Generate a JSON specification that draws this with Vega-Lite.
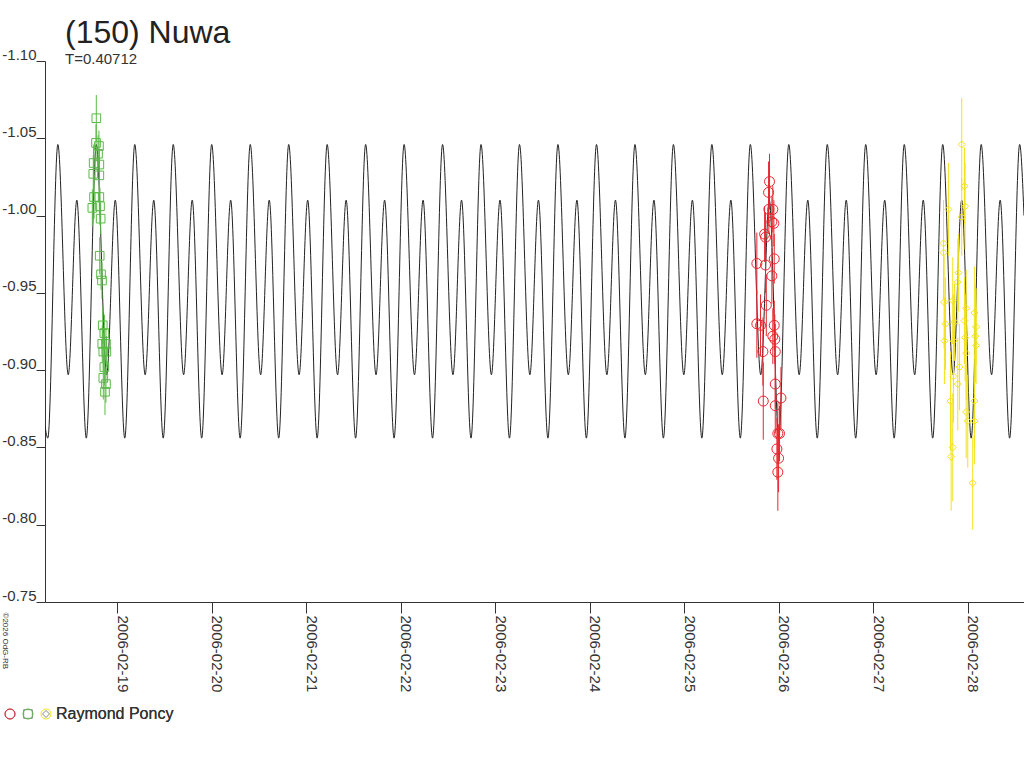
{
  "$schema": "https://vega.github.io/schema/vega-lite/v6.json",
  "width": 979,
  "height": 541,
  "autosize": "none",
  "padding": {"left": 45, "top": 61, "right": 0, "bottom": 166},
  "background": "white",
  "title": {
    "text": "(150) Nuwa",
    "subtitle": "T=0.40712",
    "anchor": "start",
    "frame": "group",
    "dx": 20,
    "offset": -21,
    "fontSize": 32,
    "fontWeight": "normal",
    "font": "Liberation Sans",
    "color": "#222",
    "subtitleFontSize": 15,
    "subtitleFont": "Liberation Sans",
    "subtitleColor": "#333",
    "subtitlePadding": 2
  },
  "datasets": {
    "curve": [
      {"day": 18.235, "mag": -0.864}, {"day": 18.265, "mag": -0.856},
      {"day": 18.371, "mag": -1.046}, {"day": 18.481, "mag": -0.897}, {"day": 18.572, "mag": -1.010}, {"day": 18.672, "mag": -0.856},
      {"day": 18.778, "mag": -1.046}, {"day": 18.888, "mag": -0.897}, {"day": 18.979, "mag": -1.010}, {"day": 19.079, "mag": -0.856},
      {"day": 19.185, "mag": -1.046}, {"day": 19.295, "mag": -0.897}, {"day": 19.386, "mag": -1.010}, {"day": 19.486, "mag": -0.856},
      {"day": 19.592, "mag": -1.046}, {"day": 19.702, "mag": -0.897}, {"day": 19.793, "mag": -1.010}, {"day": 19.893, "mag": -0.856},
      {"day": 19.999, "mag": -1.046}, {"day": 20.109, "mag": -0.897}, {"day": 20.200, "mag": -1.010}, {"day": 20.300, "mag": -0.856},
      {"day": 20.407, "mag": -1.046}, {"day": 20.517, "mag": -0.897}, {"day": 20.608, "mag": -1.010}, {"day": 20.708, "mag": -0.856},
      {"day": 20.814, "mag": -1.046}, {"day": 20.924, "mag": -0.897}, {"day": 21.015, "mag": -1.010}, {"day": 21.115, "mag": -0.856},
      {"day": 21.221, "mag": -1.046}, {"day": 21.331, "mag": -0.897}, {"day": 21.422, "mag": -1.010}, {"day": 21.522, "mag": -0.856},
      {"day": 21.628, "mag": -1.046}, {"day": 21.738, "mag": -0.897}, {"day": 21.829, "mag": -1.010}, {"day": 21.929, "mag": -0.856},
      {"day": 22.035, "mag": -1.046}, {"day": 22.145, "mag": -0.897}, {"day": 22.236, "mag": -1.010}, {"day": 22.336, "mag": -0.856},
      {"day": 22.442, "mag": -1.046}, {"day": 22.552, "mag": -0.897}, {"day": 22.643, "mag": -1.010}, {"day": 22.743, "mag": -0.856},
      {"day": 22.849, "mag": -1.046}, {"day": 22.959, "mag": -0.897}, {"day": 23.050, "mag": -1.010}, {"day": 23.150, "mag": -0.856},
      {"day": 23.256, "mag": -1.046}, {"day": 23.366, "mag": -0.897}, {"day": 23.457, "mag": -1.010}, {"day": 23.557, "mag": -0.856},
      {"day": 23.663, "mag": -1.046}, {"day": 23.773, "mag": -0.897}, {"day": 23.864, "mag": -1.010}, {"day": 23.964, "mag": -0.856},
      {"day": 24.071, "mag": -1.046}, {"day": 24.181, "mag": -0.897}, {"day": 24.272, "mag": -1.010}, {"day": 24.372, "mag": -0.856},
      {"day": 24.478, "mag": -1.046}, {"day": 24.588, "mag": -0.897}, {"day": 24.679, "mag": -1.010}, {"day": 24.779, "mag": -0.856},
      {"day": 24.885, "mag": -1.046}, {"day": 24.995, "mag": -0.897}, {"day": 25.086, "mag": -1.010}, {"day": 25.186, "mag": -0.856},
      {"day": 25.292, "mag": -1.046}, {"day": 25.402, "mag": -0.897}, {"day": 25.493, "mag": -1.010}, {"day": 25.593, "mag": -0.856},
      {"day": 25.699, "mag": -1.046}, {"day": 25.809, "mag": -0.897}, {"day": 25.900, "mag": -1.010}, {"day": 26.000, "mag": -0.856},
      {"day": 26.106, "mag": -1.046}, {"day": 26.216, "mag": -0.897}, {"day": 26.307, "mag": -1.010}, {"day": 26.407, "mag": -0.856},
      {"day": 26.513, "mag": -1.046}, {"day": 26.623, "mag": -0.897}, {"day": 26.714, "mag": -1.010}, {"day": 26.814, "mag": -0.856},
      {"day": 26.920, "mag": -1.046}, {"day": 27.030, "mag": -0.897}, {"day": 27.121, "mag": -1.010}, {"day": 27.221, "mag": -0.856},
      {"day": 27.328, "mag": -1.046}, {"day": 27.438, "mag": -0.897}, {"day": 27.529, "mag": -1.010}, {"day": 27.629, "mag": -0.856},
      {"day": 27.735, "mag": -1.046}, {"day": 27.845, "mag": -0.897}, {"day": 27.936, "mag": -1.010}, {"day": 28.036, "mag": -0.856},
      {"day": 28.142, "mag": -1.046}, {"day": 28.252, "mag": -0.897}, {"day": 28.343, "mag": -1.010}, {"day": 28.443, "mag": -0.856},
      {"day": 28.549, "mag": -1.046}, {"day": 28.595, "mag": -1.000}
    ],
    "obs": [
      {"session": "2006-02-18", "day": 18.778, "mag": -1.063, "err": 0.015},
      {"session": "2006-02-18", "day": 18.775, "mag": -1.047, "err": 0.012},
      {"session": "2006-02-18", "day": 18.806, "mag": -1.045, "err": 0.010},
      {"session": "2006-02-18", "day": 18.796, "mag": -1.040, "err": 0.012},
      {"session": "2006-02-18", "day": 18.750, "mag": -1.034, "err": 0.012},
      {"session": "2006-02-18", "day": 18.810, "mag": -1.033, "err": 0.010},
      {"session": "2006-02-18", "day": 18.746, "mag": -1.027, "err": 0.012},
      {"session": "2006-02-18", "day": 18.810, "mag": -1.026, "err": 0.012},
      {"session": "2006-02-18", "day": 18.754, "mag": -1.012, "err": 0.014},
      {"session": "2006-02-18", "day": 18.810, "mag": -1.012, "err": 0.010},
      {"session": "2006-02-18", "day": 18.736, "mag": -1.005, "err": 0.012},
      {"session": "2006-02-18", "day": 18.817, "mag": -1.006, "err": 0.012},
      {"session": "2006-02-18", "day": 18.824, "mag": -0.998, "err": 0.010},
      {"session": "2006-02-18", "day": 18.814, "mag": -0.974, "err": 0.012},
      {"session": "2006-02-18", "day": 18.828, "mag": -0.962, "err": 0.010},
      {"session": "2006-02-18", "day": 18.838, "mag": -0.958, "err": 0.012},
      {"session": "2006-02-18", "day": 18.846, "mag": -0.929, "err": 0.012},
      {"session": "2006-02-18", "day": 18.863, "mag": -0.924, "err": 0.012},
      {"session": "2006-02-18", "day": 18.841, "mag": -0.917, "err": 0.012},
      {"session": "2006-02-18", "day": 18.880, "mag": -0.917, "err": 0.010},
      {"session": "2006-02-18", "day": 18.852, "mag": -0.912, "err": 0.012},
      {"session": "2006-02-18", "day": 18.884, "mag": -0.912, "err": 0.010},
      {"session": "2006-02-18", "day": 18.863, "mag": -0.902, "err": 0.012},
      {"session": "2006-02-18", "day": 18.852, "mag": -0.895, "err": 0.014},
      {"session": "2006-02-18", "day": 18.880, "mag": -0.891, "err": 0.012},
      {"session": "2006-02-18", "day": 18.870, "mag": -0.886, "err": 0.015},
      {"session": "2006-02-25", "day": 25.902, "mag": -1.022, "err": 0.018},
      {"session": "2006-02-25", "day": 25.892, "mag": -1.015, "err": 0.020},
      {"session": "2006-02-25", "day": 25.895, "mag": -1.004, "err": 0.016},
      {"session": "2006-02-25", "day": 25.937, "mag": -1.004, "err": 0.015},
      {"session": "2006-02-25", "day": 25.927, "mag": -0.996, "err": 0.016},
      {"session": "2006-02-25", "day": 25.948, "mag": -0.995, "err": 0.015},
      {"session": "2006-02-25", "day": 25.850, "mag": -0.988, "err": 0.018},
      {"session": "2006-02-25", "day": 25.860, "mag": -0.986, "err": 0.016},
      {"session": "2006-02-25", "day": 25.768, "mag": -0.969, "err": 0.020},
      {"session": "2006-02-25", "day": 25.860, "mag": -0.968, "err": 0.018},
      {"session": "2006-02-25", "day": 25.952, "mag": -0.972, "err": 0.016},
      {"session": "2006-02-25", "day": 25.927, "mag": -0.961, "err": 0.018},
      {"session": "2006-02-25", "day": 25.868, "mag": -0.942, "err": 0.020},
      {"session": "2006-02-25", "day": 25.768, "mag": -0.930, "err": 0.022},
      {"session": "2006-02-25", "day": 25.807, "mag": -0.929, "err": 0.020},
      {"session": "2006-02-25", "day": 25.952, "mag": -0.929, "err": 0.016},
      {"session": "2006-02-25", "day": 25.937, "mag": -0.922, "err": 0.018},
      {"session": "2006-02-25", "day": 25.958, "mag": -0.920, "err": 0.016},
      {"session": "2006-02-25", "day": 25.832, "mag": -0.912, "err": 0.022},
      {"session": "2006-02-25", "day": 25.963, "mag": -0.912, "err": 0.018},
      {"session": "2006-02-25", "day": 25.963, "mag": -0.891, "err": 0.016},
      {"session": "2006-02-25", "day": 25.836, "mag": -0.880, "err": 0.025},
      {"session": "2006-02-25", "day": 26.023, "mag": -0.882, "err": 0.020},
      {"session": "2006-02-25", "day": 25.963, "mag": -0.877, "err": 0.018},
      {"session": "2006-02-25", "day": 25.990, "mag": -0.859, "err": 0.020},
      {"session": "2006-02-25", "day": 26.008, "mag": -0.859, "err": 0.018},
      {"session": "2006-02-25", "day": 25.980, "mag": -0.849, "err": 0.020},
      {"session": "2006-02-25", "day": 25.998, "mag": -0.843, "err": 0.022},
      {"session": "2006-02-25", "day": 25.990, "mag": -0.834, "err": 0.025},
      {"session": "2006-02-27", "day": 27.936, "mag": -1.046, "err": 0.030},
      {"session": "2006-02-27", "day": 27.965, "mag": -1.019, "err": 0.025},
      {"session": "2006-02-27", "day": 27.972, "mag": -1.006, "err": 0.028},
      {"session": "2006-02-27", "day": 27.936, "mag": -0.999, "err": 0.025},
      {"session": "2006-02-27", "day": 27.795, "mag": -1.004, "err": 0.030},
      {"session": "2006-02-27", "day": 27.743, "mag": -0.982, "err": 0.028},
      {"session": "2006-02-27", "day": 27.743, "mag": -0.976, "err": 0.030},
      {"session": "2006-02-27", "day": 27.901, "mag": -0.963, "err": 0.025},
      {"session": "2006-02-27", "day": 27.894, "mag": -0.957, "err": 0.028},
      {"session": "2006-02-27", "day": 27.750, "mag": -0.944, "err": 0.030},
      {"session": "2006-02-27", "day": 27.841, "mag": -0.945, "err": 0.028},
      {"session": "2006-02-27", "day": 27.764, "mag": -0.930, "err": 0.030},
      {"session": "2006-02-27", "day": 27.859, "mag": -0.931, "err": 0.025},
      {"session": "2006-02-27", "day": 27.753, "mag": -0.919, "err": 0.028},
      {"session": "2006-02-27", "day": 27.848, "mag": -0.919, "err": 0.030},
      {"session": "2006-02-27", "day": 27.983, "mag": -0.940, "err": 0.025},
      {"session": "2006-02-27", "day": 27.965, "mag": -0.932, "err": 0.028},
      {"session": "2006-02-27", "day": 28.070, "mag": -0.937, "err": 0.030},
      {"session": "2006-02-27", "day": 28.088, "mag": -0.928, "err": 0.025},
      {"session": "2006-02-27", "day": 27.972, "mag": -0.921, "err": 0.028},
      {"session": "2006-02-27", "day": 28.081, "mag": -0.922, "err": 0.030},
      {"session": "2006-02-27", "day": 28.088, "mag": -0.916, "err": 0.025},
      {"session": "2006-02-27", "day": 27.983, "mag": -0.911, "err": 0.030},
      {"session": "2006-02-27", "day": 27.912, "mag": -0.902, "err": 0.028},
      {"session": "2006-02-27", "day": 27.848, "mag": -0.896, "err": 0.030},
      {"session": "2006-02-27", "day": 27.894, "mag": -0.891, "err": 0.030},
      {"session": "2006-02-27", "day": 27.817, "mag": -0.880, "err": 0.032},
      {"session": "2006-02-27", "day": 28.070, "mag": -0.880, "err": 0.030},
      {"session": "2006-02-27", "day": 27.983, "mag": -0.873, "err": 0.030},
      {"session": "2006-02-27", "day": 28.070, "mag": -0.867, "err": 0.028},
      {"session": "2006-02-27", "day": 28.000, "mag": -0.867, "err": 0.030},
      {"session": "2006-02-27", "day": 27.841, "mag": -0.850, "err": 0.035},
      {"session": "2006-02-27", "day": 27.824, "mag": -0.844, "err": 0.035},
      {"session": "2006-02-27", "day": 28.052, "mag": -0.827, "err": 0.030}
    ]
  },
  "encoding": {
    "x": {
      "field": "day",
      "type": "quantitative",
      "scale": {"domain": [18.235, 28.595], "nice": false, "zero": false},
      "axis": {
        "title": null,
        "values": [19, 20, 21, 22, 23, 24, 25, 26, 27, 28],
        "labelExpr": "'2006-02-' + datum.value",
        "labelAngle": 90,
        "labelAlign": "left",
        "labelBaseline": "alphabetic",
        "labelPadding": 2,
        "tickSize": 11,
        "grid": false,
        "labelFlush": false,
        "labelOverlap": false,
        "labelBound": false
      }
    },
    "y": {
      "field": "mag",
      "type": "quantitative",
      "scale": {"domain": [-1.10, -0.75], "reverse": true, "nice": false, "zero": false},
      "axis": {
        "title": "©2026 OdG-RB",
        "titleAngle": 90,
        "titleFontSize": 8,
        "titleFontWeight": "normal",
        "titleX": -43,
        "titleY": 551,
        "titleAlign": "left",
        "titleBaseline": "alphabetic",
        "values": [-1.1, -1.05, -1, -0.95, -0.9, -0.85, -0.8, -0.75],
        "format": ".2f",
        "labelExpr": "replace(datum.label, '\u2212', '-')",
        "tickSize": 9,
        "labelPadding": 0,
        "labelBaseline": "alphabetic",
        "labelOffset": -2,
        "grid": false,
        "labelFlush": false,
        "labelOverlap": false
      }
    }
  },
  "resolve": {
    "scale": {"color": "independent"},
    "legend": {"color": "independent"}
  },
  "layer": [
    {
      "data": {"name": "curve"},
      "mark": {"type": "line", "interpolate": "monotone", "color": "#222", "strokeWidth": 1, "clip": true}
    },
    {
      "data": {"name": "obs"},
      "mark": {"type": "errorbar", "thickness": 1},
      "encoding": {
        "yError": {"field": "err"},
        "color": {
          "field": "session",
          "type": "nominal",
          "scale": {
            "domain": ["2006-02-25", "2006-02-18", "2006-02-27"],
            "range": ["#e8262d", "#5ab947", "#f2e21c"]
          },
          "legend": null
        }
      }
    },
    {
      "data": {"name": "obs"},
      "mark": {"type": "point", "filled": false, "strokeWidth": 1, "opacity": 1},
      "encoding": {
        "color": {
          "field": "session",
          "type": "nominal",
          "scale": {
            "domain": ["2006-02-25", "2006-02-18", "2006-02-27"],
            "range": ["#e8262d", "#5ab947", "#f2e21c"]
          },
          "legend": {
            "orient": "none",
            "legendX": -43,
            "legendY": 645,
            "direction": "horizontal",
            "columns": 3,
            "title": null,
            "labelExpr": "datum.value == '2006-02-27' ? 'Raymond Poncy' : ''",
            "labelOffset": 2,
            "columnPadding": -2,
            "symbolStrokeWidth": 1
          }
        },
        "shape": {
          "field": "session",
          "type": "nominal",
          "scale": {
            "domain": ["2006-02-25", "2006-02-18", "2006-02-27"],
            "range": ["circle", "square", "diamond"]
          },
          "legend": {
            "orient": "none",
            "legendX": -43,
            "legendY": 645,
            "direction": "horizontal",
            "columns": 3,
            "title": null,
            "labelExpr": "datum.value == '2006-02-27' ? 'Raymond Poncy' : ''",
            "labelOffset": 2,
            "columnPadding": -2,
            "symbolStrokeWidth": 1
          }
        },
        "size": {
          "field": "session",
          "type": "nominal",
          "scale": {
            "domain": ["2006-02-25", "2006-02-18", "2006-02-27"],
            "range": [100, 49, 130]
          },
          "legend": {
            "orient": "none",
            "legendX": -43,
            "legendY": 645,
            "direction": "horizontal",
            "columns": 3,
            "title": null,
            "labelExpr": "datum.value == '2006-02-27' ? 'Raymond Poncy' : ''",
            "labelOffset": 2,
            "columnPadding": -2,
            "symbolStrokeWidth": 1
          }
        }
      }
    }
  ],
  "config": {
    "view": {"stroke": null},
    "font": "Liberation Sans",
    "axis": {
      "labelFont": "Liberation Sans",
      "labelFontSize": 15,
      "labelColor": "#333",
      "domainColor": "#333",
      "tickColor": "#333",
      "titleFont": "Liberation Sans",
      "titleColor": "#333"
    },
    "legend": {
      "labelFont": "Liberation Sans",
      "labelFontSize": 16,
      "labelColor": "#333"
    }
  }
}
